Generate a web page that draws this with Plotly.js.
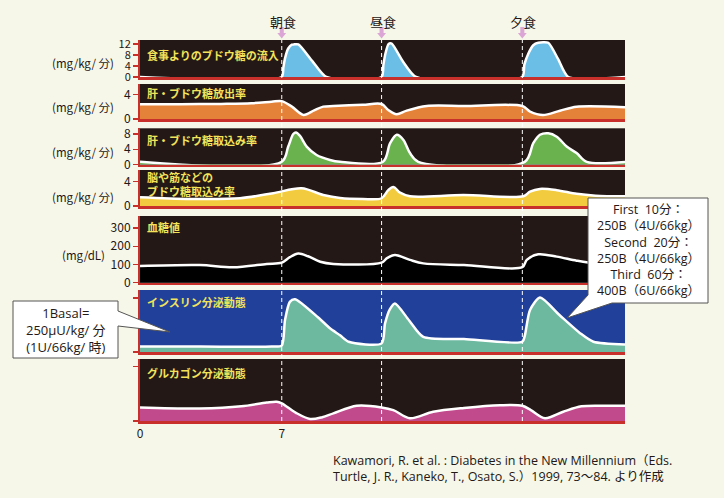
<!DOCTYPE html>
<html>
<head>
<meta charset="utf-8">
<script src="https://cdn.plot.ly/plotly-3.0.1.min.js"></script>
<style>html,body{margin:0;padding:0;background:#f7f7e9;}#chart{width:724px;height:498px;}</style>
</head>
<body>
<div id="chart"></div>
<script>
// ===== DATA (hours of day) =====
const meals = [7, 11.93, 18.88];
const mealLabels = ['朝食', '昼食', '夕食'];
const xTickVals = [0, 7];
const xTickText = ['0', '7'];

const foodT = [0, 7.0, 7.08, 7.16, 7.32, 7.5, 7.6, 7.82, 8.5, 9.2, 11.93, 12.02, 12.12, 12.27, 12.43, 13.0, 13.63, 18.88, 18.98, 19.18, 19.42, 19.67, 20.16, 20.65, 21.15, 24];
const foodV = [0, 0, 3.5, 6.8, 10.4, 11.8, 11.9, 11.9, 5.9, 0, 0, 4.5, 8.6, 12, 12.2, 5.5, 0, 0, 4.5, 8.6, 11.6, 12.5, 12.5, 6.5, 0, 0];

const liverT = [0, 2, 4, 5.5, 6.5, 7.0, 7.5, 8.07, 8.6, 9.05, 9.55, 11.0, 11.93, 12.26, 12.67, 13.17, 14.16, 16, 18.88, 19.26, 19.9, 20.74, 21.56, 23.95];
const liverV = [2.4, 2.4, 2.45, 2.55, 2.8, 2.9, 2.0, 0.65, 1.4, 2.0, 2.1, 2.3, 2.43, 1.46, 0.76, 1.35, 2.1, 2.1, 2.1, 1.2, 0.65, 1.35, 2.0, 1.9];

const upT = [0, 7.0, 7.32, 7.57, 7.7, 7.9, 8.23, 8.72, 9.38, 9.88, 12.0, 12.35, 12.68, 13.0, 13.33, 13.74, 19.0, 19.42, 19.75, 20.16, 20.58, 21.07, 21.56, 22.06, 24];
const upV = [0.7, 0.7, 4.7, 8.0, 8.4, 7.5, 4.7, 2.5, 1.2, 0.7, 0.7, 5.6, 7.8, 6.5, 3.0, 0.7, 0.7, 5.6, 7.8, 8.2, 7.3, 4.7, 3.0, 0.7, 0.7];

const brainT = [0, 2.47, 4.94, 6.58, 7.98, 9.05, 9.88, 11.0, 11.93, 12.26, 12.51, 12.84, 13.33, 15.97, 18.93, 19.26, 19.75, 20.58, 21.56, 22.5, 24];
const brainV = [1.43, 1.15, 1.27, 2.1, 2.9, 1.8, 1.3, 1.15, 1.27, 2.6, 3.1, 2.2, 1.6, 1.8, 1.6, 2.35, 2.8, 2.6, 2.0, 1.7, 1.6];

const bgT = [0, 2.96, 4.6, 6.26, 7.0, 7.4, 7.82, 8.3, 8.9, 9.55, 11.93, 12.2, 12.59, 13.33, 13.99, 16, 18.88, 19.1, 19.67, 20.58, 21.56, 22.5, 24];
const bgV = [92, 97, 85, 103, 110, 140, 160, 145, 115, 103, 110, 135, 152, 125, 106, 97, 85, 125, 156, 143, 121, 105, 97];

const insT = [0, 3, 6.5, 7.0, 7.16, 7.4, 7.65, 8.8, 9.38, 9.88, 10.3, 11.93, 12.1, 12.35, 12.59, 13.3, 13.99, 16, 18.88, 19.0, 19.26, 19.75, 20.7, 21.73, 22.39, 24];
const insV = [10, 10, 10, 12, 59, 93, 98, 64, 44, 31, 19, 16, 53, 80, 90, 58, 28, 24, 19, 30, 78, 101, 69, 35, 19, 14];

const gluT = [0, 2.96, 5, 6.26, 6.75, 7.0, 7.7, 8.4, 9.0, 9.55, 10.7, 11.93, 12.51, 13.33, 14.48, 16, 17.78, 18.88, 19.3, 20.0, 20.9, 21.8, 23, 24];
const gluV = [25, 23, 27, 34, 35.5, 32.5, 15, 3.7, 7, 14, 28, 25, 20, 5, 17, 24, 29, 28, 20, 5, 17, 27, 28, 28];

const panelLabels = ['食事よりのブドウ糖の流入', '肝・ブドウ糖放出率', '肝・ブドウ糖取込み率', '脳や筋などの', '血糖値', 'インスリン分泌動態', 'グルカゴン分泌動態'];
const unitLabels = ['(mg/kg/ 分)', '(mg/kg/ 分)', '(mg/kg/ 分)', '(mg/kg/ 分)', '(mg/dL)'];
const basalText = '1Basal=<br>250μU/kg/ 分<br>(1U/66kg/ 時)';
const bolusText = 'First  10分：<br>250B（4U/66kg）<br>Second  20分：<br>250B（4U/66kg）<br>Third  60分：<br>400B（6U/66kg）';
const sourceLines = ['Kawamori, R. et al. : Diabetes in the New Millennium（Eds.', 'Turtle, J. R., Kaneko, T., Osato, S.）1999, 73～84. より作成'];

// ===== LAYOUT HELPERS =====
const W = 724, H = 498, ML = 140, MR = 99;
const PW = W - ML - MR;
const px = v => (v - ML) / PW;
const py = v => 1 - v / H;
const FONT = '"Noto Sans CJK JP", "Noto Sans", sans-serif';
const FONT2 = '"Open Sans", "Noto Sans CJK JP", sans-serif';
const DARK = '#231815';
const RED = '#c8312b';
const YEL = '#f3e35a';

const series = [
  {t: foodT, v: foodV, fill: '#6bbfe6', range: [0, 13.5], ticks: [0, 4, 8, 12], px: [40, 77], sm: 0.6, tf: 11},
  {t: liverT, v: liverV, fill: '#e4823a', range: [0, 5.67], ticks: [0, 4], px: [84, 119], sm: 0.9, tf: 12},
  {t: upT, v: upV, fill: '#6ab24d', range: [0, 9.5], ticks: [0, 4, 8], px: [128.3, 164.5], sm: 0.9, tf: 12},
  {t: brainT, v: brainV, fill: '#f2cc3e', range: [0, 5.9], ticks: [0, 4], px: [170, 206], sm: 0.9, tf: 12},
  {t: bgT, v: bgV, fill: '#000000', range: [0, 366], ticks: [0, 100, 200, 300], px: [216, 282.7], sm: 0.9, tf: 12},
  {t: insT, v: insV, fill: '#6cb9a0', range: [0, 115], ticks: [0, 100], px: [290, 352], sm: 0.7, blank: true, tf: 12},
  {t: gluT, v: gluV, fill: '#c14a8d', range: [0, 114], ticks: [0, 100], px: [359, 421], sm: 0.9, blank: true, tf: 12}
];

const traces = [];
const layout = {
  width: W, height: H, autosize: false,
  margin: {l: ML, r: MR, t: 0, b: 0, pad: 0},
  paper_bgcolor: '#f7f7e9',
  plot_bgcolor: '#231815',
  showlegend: false,
  font: {family: FONT, color: DARK, size: 12},
  shapes: [], annotations: []
};

series.forEach((s, i) => {
  const n = i + 1;
  const xs = n === 1 ? '' : String(n);
  traces.push({
    x: s.t, y: s.v, xaxis: 'x' + xs, yaxis: 'y' + xs,
    type: 'scatter', mode: 'lines', fill: 'tozeroy', fillcolor: s.fill,
    line: {color: '#ffffff', width: 2.5, shape: 'spline', smoothing: s.sm},
    hoverinfo: 'skip'
  });
  layout['xaxis' + xs] = {
    domain: [0, 1], range: [0, 23.95], anchor: 'y' + xs,
    showline: true, linecolor: RED, linewidth: 2.5, mirror: false,
    showgrid: false, zeroline: false, ticks: '',
    showticklabels: n === 7,
    tickvals: xTickVals, ticktext: xTickText,
    tickfont: {family: FONT, size: 12, color: DARK}, fixedrange: true
  };
  layout['yaxis' + xs] = {
    domain: [py(s.px[1]), py(s.px[0])], range: s.range, anchor: 'x' + xs,
    showline: true, linecolor: RED, linewidth: 2,
    showgrid: false, zeroline: false,
    tickvals: s.ticks, ticktext: s.blank ? s.ticks.map(() => '') : s.ticks.map(String),
    ticks: 'outside', ticklen: 5, tickwidth: 1.3, tickcolor: RED,
    tickfont: {family: FONT, size: s.tf, color: DARK}, fixedrange: true
  };
});

// insulin panel blue background
layout.shapes.push({type: 'rect', xref: 'paper', yref: 'paper', x0: 0, x1: 1,
  y0: py(352), y1: py(290), fillcolor: '#20409a', line: {width: 0}, layer: 'below'});

// meal dashed lines, arrows, labels
meals.forEach((m, k) => {
  layout.shapes.push({type: 'line', xref: 'x', yref: 'paper', x0: m, x1: m,
    y0: py(421), y1: py(40), line: {color: '#ffffff', width: 1, dash: '4px,3px'}, layer: 'above'});
  const a = 0.1, b = 0.22;
  layout.shapes.push({type: 'path', xref: 'x', yref: 'paper',
    path: `M ${m - a} ${py(27)} L ${m + a} ${py(27)} L ${m + a} ${py(33)} L ${m + b} ${py(33)} L ${m} ${py(38.5)} L ${m - b} ${py(33)} L ${m - a} ${py(33)} Z`,
    fillcolor: '#dba6d6', line: {width: 0}, layer: 'above'});
  layout.annotations.push({xref: 'x', yref: 'paper', x: m + 0.05, y: py(21.5), text: mealLabels[k],
    showarrow: false, xanchor: 'center', yanchor: 'middle', font: {family: FONT, size: 13, color: DARK}});
});

// panel labels
const labelY = [55, 93.3, 140, 176.7, 226.7, 301.7, 373.3];
panelLabels.forEach((t, i) => {
  layout.annotations.push({xref: 'paper', yref: 'paper', x: px(145), y: py(labelY[i]), text: '<b>' + t + '</b>',
    showarrow: false, xanchor: 'left', yanchor: 'middle', font: {family: FONT, size: 11, color: YEL}});
});
layout.annotations.push({xref: 'paper', yref: 'paper', x: px(145), y: py(190.5), text: '<b>ブドウ糖取込み率</b>',
  showarrow: false, xanchor: 'left', yanchor: 'middle', font: {family: FONT, size: 11, color: YEL}});

// unit labels
const unitY = [63.3, 106.7, 151.7, 196.7, 255];
unitLabels.forEach((t, i) => {
  layout.annotations.push({xref: 'paper', yref: 'paper', x: px(83), y: py(unitY[i]), text: t,
    showarrow: false, xanchor: 'center', yanchor: 'middle', font: {family: FONT, size: 11.5, color: DARK}});
});

// callouts (box + pointer as one path)
const P = (x, y) => `${px(x)} ${py(y)}`;
layout.shapes.push({type: 'path', xref: 'paper', yref: 'paper', layer: 'above',
  path: `M ${P(13, 301)} L ${P(118, 301)} L ${P(118, 311)} L ${P(170, 332)} L ${P(118, 326)} L ${P(118, 358)} L ${P(13, 358)} Z`,
  fillcolor: '#ffffff', line: {color: '#555555', width: 1}});
layout.shapes.push({type: 'path', xref: 'paper', yref: 'paper', layer: 'above',
  path: `M ${P(588, 198)} L ${P(708, 198)} L ${P(708, 303)} L ${P(612, 303)} L ${P(567, 318)} L ${P(588, 295)} Z`,
  fillcolor: '#ffffff', line: {color: '#555555', width: 1}});
layout.annotations.push({xref: 'paper', yref: 'paper', x: px(66), y: py(330), text: basalText,
  showarrow: false, xanchor: 'center', yanchor: 'middle', align: 'center', font: {family: FONT2, size: 13, color: DARK}});
layout.annotations.push({xref: 'paper', yref: 'paper', x: px(648), y: py(250), text: bolusText,
  showarrow: false, xanchor: 'center', yanchor: 'middle', align: 'center', font: {family: FONT2, size: 12.5, color: DARK}});

// source
sourceLines.forEach((t, i) => {
  layout.annotations.push({xref: 'paper', yref: 'paper', x: px(331), y: py(460 + i * 16.7), text: t,
    showarrow: false, xanchor: 'left', yanchor: 'middle', font: {family: FONT2, size: 12.5, color: DARK}});
});

Plotly.newPlot('chart', traces, layout, {staticPlot: true, displayModeBar: false});
</script>
</body>
</html>
